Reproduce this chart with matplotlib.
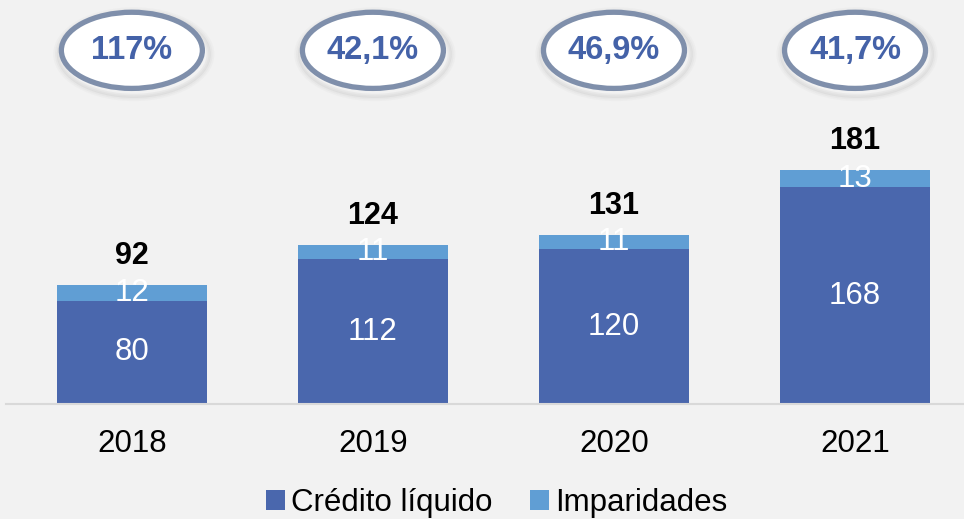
import matplotlib.pyplot as plt
from matplotlib.patches import Ellipse

plt.rcParams['font.family'] = ['Liberation Sans', 'DejaVu Sans']

anos = ['2018', '2019', '2020', '2021']
credito_liquido = [80, 112, 120, 168]
imparidades = [12, 11, 11, 13]
totais = [92, 124, 131, 181]
racios = ['117%', '42,1%', '46,9%', '41,7%']

AZUL_ESCURO = '#4A67AD'
AZUL_CLARO = '#609ED4'
FUNDO = '#F2F2F2'

fig = plt.figure(figsize=(9.64, 5.19), dpi=100, facecolor=FUNDO)
ax = fig.add_axes([0.006, 0.2216, 0.994, 0.7784])
ax.set_facecolor(FUNDO)

x = list(range(len(anos)))
largura = 0.622
b1 = ax.bar(x, credito_liquido, largura, color=AZUL_ESCURO, label='Crédito líquido')
b2 = ax.bar(x, imparidades, largura, bottom=credito_liquido, color=AZUL_CLARO, label='Imparidades')

ax.set_xlim(-0.523, 3.452)
ax.set_ylim(0, 313)

# rótulos dentro das barras
for i in x:
    ax.text(i, credito_liquido[i] / 2, str(credito_liquido[i]), ha='center', va='center',
            color='white', fontsize=22.5)
    ax.text(i, credito_liquido[i] + imparidades[i] / 2, str(imparidades[i]), ha='center',
            va='center', color='white', fontsize=22.5)
    ax.annotate(str(totais[i]), (i, credito_liquido[i] + imparidades[i]), xytext=(0, 10),
                textcoords='offset points', ha='center', va='bottom', fontsize=22,
                fontweight='bold', color='black')

# elipses com os rácios
y_el = 274
for i in x:
    for k, a in enumerate([0.07, 0.05, 0.03]):
        sombra = Ellipse((i + 0.008, y_el - 3), 0.606 + 0.015 * (k + 1), 62 + 2.5 * (k + 1),
                         facecolor='none', edgecolor='#707070', lw=3, alpha=a, clip_on=False)
        ax.add_patch(sombra)
    el = Ellipse((i, y_el), 0.585, 59, facecolor='white', edgecolor='#7F8FAB', lw=3.8,
                 clip_on=False, zorder=3)
    ax.add_patch(el)
    ax.text(i, y_el, racios[i], ha='center', va='center', fontsize=23.5, fontweight='bold',
            color='#4462A8', zorder=4)

for s in ['top', 'right', 'left']:
    ax.spines[s].set_visible(False)
ax.spines['bottom'].set_color('#D9D9D9')
ax.spines['bottom'].set_linewidth(1.5)
ax.set_yticks([])
ax.set_xticks(x)
ax.set_xticklabels(anos, fontsize=22.5)
ax.tick_params(axis='x', length=0, pad=18)

fig.legend(handles=[b1, b2], loc='center', bbox_to_anchor=(0.515, 0.03), ncol=2,
           frameon=False, fontsize=22.5, handlelength=0.6, handleheight=0.6,
           handletextpad=0.2, columnspacing=1.2)

fig.savefig('out.png', dpi=100, facecolor=FUNDO)
